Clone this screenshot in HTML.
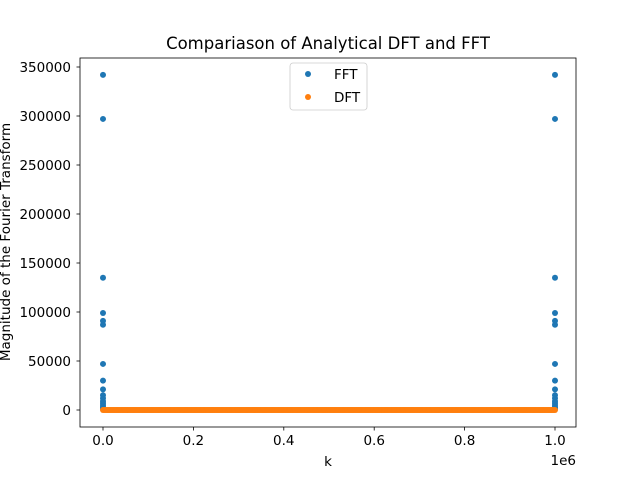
<!DOCTYPE html>
<html><head><meta charset="utf-8"><style>
body{margin:0;background:#fff}
svg{font-family:"DejaVu Sans","Liberation Sans",sans-serif}
</style></head><body>
<svg id="chart" width="640" height="480" viewBox="0 0 640 480" xmlns="http://www.w3.org/2000/svg">
<rect width="640" height="480" fill="#fff"/>
<text x="328" y="49" font-size="16.5" text-anchor="middle">Compariason of Analytical DFT and FFT</text>
<g id="marks"></g>
<g id="axes"></g>
<rect x="80" y="58" width="496" height="369" fill="none" stroke="#000" stroke-width="0.8"/>
<text x="328" y="466" font-size="13.5" text-anchor="middle">k</text>
<text x="576" y="465" font-size="13.5" text-anchor="end">1e6</text>
<text transform="translate(10,242) rotate(-90)" font-size="13.5" text-anchor="middle">Magnitude of the Fourier Transform</text>
<g>
<rect x="290" y="63" width="77" height="47" rx="3" fill="#fff" fill-opacity="0.8" stroke="#ccc" stroke-width="0.8"/>
<g><circle cx="308" cy="74" r="3" fill="#1f77b4"/><text x="334" y="79" font-size="13.5">FFT</text></g>
<g><circle cx="308" cy="97" r="3" fill="#ff7f0e"/><text x="334" y="102" font-size="13.5">DFT</text></g>
</g>
</svg>
<script>
const fftK = [0,0,0,0,0,0,0,0,0,0,0,0,0,0,0,0,0, 1000000,1000000,1000000,1000000,1000000,1000000,1000000,1000000,1000000,1000000,1000000,1000000,1000000,1000000,1000000,1000000,1000000];
const fftMag = [342000,297000,135000,99000,91000,87000,47000,30000,21000,15000,12000,9000,7000,5000,3000,2000,1000, 342000,297000,135000,99000,91000,87000,47000,30000,21000,15000,12000,9000,7000,5000,3000,2000,1000];
const dftStart = 0, dftEnd = 1000000, dftCount = 400;
const dftMag = 0;
const xTicks = [0,0.2,0.4,0.6,0.8,1.0];
const xTickLabels = ["0.0","0.2","0.4","0.6","0.8","1.0"];
const yTicks = [0,50000,100000,150000,200000,250000,300000,350000];
const yTickLabels = ["0","50000","100000","150000","200000","250000","300000","350000"];

const NS="http://www.w3.org/2000/svg";
const xs = v => 103 + (v/1000000)*452;
const ys = v => 410 - v*(343/350000);
const marks=document.getElementById('marks'), axes=document.getElementById('axes');
function mk(tag,attrs,parent){const e=document.createElementNS(NS,tag);for(const k in attrs)e.setAttribute(k,attrs[k]);parent.appendChild(e);return e;}
for(let i=0;i<fftK.length;i++){
  const c=mk('circle',{cx:xs(fftK[i]),cy:ys(fftMag[i]),r:3,fill:'#1f77b4'},marks);
  
  
}
for(let i=0;i<=dftCount;i++){
  const k=dftStart+(dftEnd-dftStart)*i/dftCount;
  const c=mk('circle',{cx:xs(k),cy:ys(dftMag),r:3,fill:'#ff7f0e'},marks);
  
  
}
xTicks.forEach((t,i)=>{
  const x=xs(t*1000000);
  const l=mk('line',{x1:x,x2:x,y1:427,y2:430.5,stroke:'#000','stroke-width':0.8},axes);
  
  
  const tx=mk('text',{x:x,y:445,'font-size':13.5,'text-anchor':'middle'},axes);
  tx.textContent=xTickLabels[i];
  
  
});
yTicks.forEach((t,i)=>{
  const y=ys(t);
  const l=mk('line',{x1:76.5,x2:80,y1:y,y2:y,stroke:'#000','stroke-width':0.8},axes);
  
  
  const tx=mk('text',{x:71,y:y+5,'font-size':13.5,'text-anchor':'end'},axes);
  tx.textContent=yTickLabels[i];
  
  
});
</script>
</body></html>
